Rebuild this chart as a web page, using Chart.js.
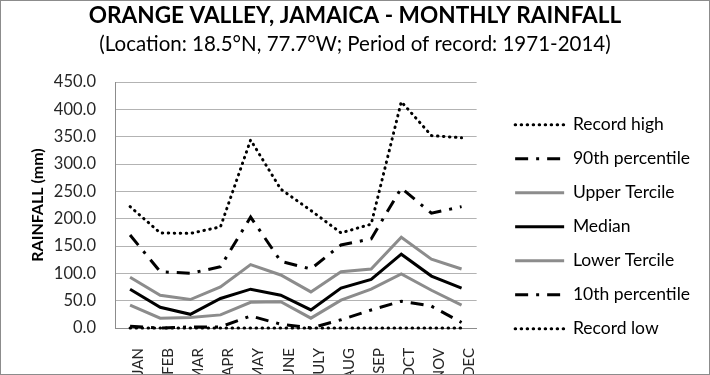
<!DOCTYPE html>
<html>
<head>
<meta charset="utf-8">
<script src="https://cdn.jsdelivr.net/npm/chart.js@4.4.1/dist/chart.umd.min.js"></script>
<style>
  html, body { margin: 0; padding: 0; background: #fff; }
  canvas { display: block; outline: 1px solid #8c8c8c; outline-offset: -1px; }
</style>
</head>
<body>
<canvas id="chart" width="710" height="375"></canvas>
<script>
// Orange Valley, Jamaica — monthly rainfall climatology (mm).
const MONTHS = ['JAN', 'FEB', 'MAR', 'APR', 'MAY', 'JUNE', 'JULY', 'AUG', 'SEP', 'OCT', 'NOV', 'DEC'];
const RECORD_HIGH   = [222, 174, 173, 185, 344, 254, 215, 174, 190, 414, 352, 348];
const P90           = [170, 103, 100, 112, 203, 122, 108, 152, 163, 256, 210, 222];
const UPPER_TERCILE = [93, 60, 52, 75, 116, 97, 66, 103, 108, 166, 126, 108];
const MEDIAN        = [71, 38, 25, 54, 71, 60, 33, 73, 89, 135, 95, 73];
const LOWER_TERCILE = [42, 18, 19, 24, 47, 48, 18, 51, 71, 99, 69, 42];
const P10           = [3, 0, 2, 2, 22, 7, 0, 15, 33, 49, 40, 10];
const RECORD_LOW    = [0, 0, 0, 0, 0, 0, 0, 0, 0, 0, 0, 0];
const Y_MIN = 0, Y_MAX = 450, Y_STEP = 50;

const FONT = 'Lato, "Open Sans", sans-serif';
const GREY = '#8c8c8c';
const DOTS = [0.5, 5.5];
const DASH_DOT = [13, 8, 3, 8];

function series(label, data, color, dash, cap) {
  return {
    label, data,
    borderColor: color,
    backgroundColor: color,
    borderWidth: 3,
    borderDash: dash || [],
    borderCapStyle: cap || 'butt',
    pointRadius: 0,
    tension: 0,
    clip: false,
  };
}

const datasets = [
  series('Record high', RECORD_HIGH, '#000', DOTS, 'round'),
  series('90th percentile', P90, '#000', DASH_DOT),
  series('Upper Tercile', UPPER_TERCILE, GREY),
  series('Median', MEDIAN, '#000'),
  series('Lower Tercile', LOWER_TERCILE, GREY),
  series('10th percentile', P10, '#000', DASH_DOT),
  series('Record low', RECORD_LOW, '#000', DOTS, 'round'),
];

// legend samples take the line style of their dataset (point style alone drops the dash)
function legendLabels(chart) {
  return Chart.defaults.plugins.legend.labels.generateLabels(chart).map(item => {
    const ds = chart.data.datasets[item.datasetIndex];
    return { ...item, strokeStyle: ds.borderColor, lineWidth: ds.borderWidth, lineDash: ds.borderDash, lineCap: ds.borderCapStyle };
  });
}

new Chart(document.getElementById('chart').getContext('2d'), {
  type: 'line',
  data: { labels: MONTHS, datasets },
  options: {
    responsive: false,
    animation: false,
    layout: { padding: { left: 10, right: 10, top: 0, bottom: 0 } },
    plugins: {
      title: {
        display: true,
        text: 'ORANGE VALLEY, JAMAICA - MONTHLY RAINFALL',
        color: '#000',
        font: { family: FONT, size: 22.6, weight: 'bold' },
        padding: { top: 2, bottom: 0 },
      },
      subtitle: {
        display: true,
        text: '(Location: 18.5°N, 77.7°W; Period of record: 1971-2014)',
        color: '#000',
        font: { family: FONT, size: 20.5 },
        padding: { top: 3, bottom: 25.3 },
      },
      legend: {
        position: 'right',
        align: 'start',
        maxWidth: 400,
        title: { display: true, text: '', padding: { top: 85, bottom: 0 } },
        labels: {
          usePointStyle: true,
          pointStyle: 'line',
          pointStyleWidth: 49,
          padding: 16.5,
          color: '#000',
          font: { family: FONT, size: 17.5 },
          generateLabels: legendLabels,
        },
      },
      tooltip: { enabled: false },
    },
    scales: {
      x: {
        offset: true,
        grid: { display: false },
        border: { display: true, color: GREY },
        // rotated labels sit a little left of their month; nudge them back under it
        ticks: { minRotation: 90, maxRotation: 90, autoSkip: false, padding: 12, labelOffset: 8, color: '#262626', font: { family: FONT, size: 15 } },
        afterFit: s => { s.height = 47; },
      },
      y: {
        min: Y_MIN, max: Y_MAX,
        grid: { color: '#b3b3b3', drawTicks: false },
        border: { color: GREY },
        ticks: { stepSize: Y_STEP, padding: 19, color: '#262626', font: { family: FONT, size: 16.5 }, callback: v => v.toFixed(1) },
        title: { display: true, text: 'RAINFALL (mm)', color: '#000', font: { family: FONT, size: 16, weight: 'bold' }, padding: { top: 18, bottom: 0 } },
        afterFit: s => { s.width = 105; },
      },
      // spacer between the plot and the legend
      gap: {
        type: 'linear', position: 'right', display: true,
        grid: { display: false }, border: { display: false }, ticks: { display: false },
        afterFit: s => { s.width = 22; },
      },
    },
  },
});
</script>
</body>
</html>
